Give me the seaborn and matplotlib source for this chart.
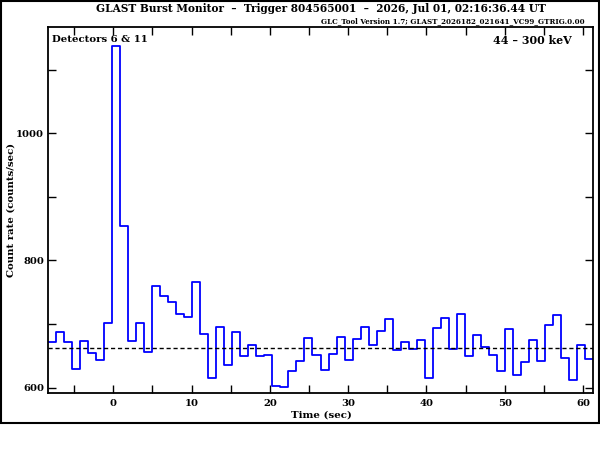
import numpy as np
import pandas as pd
import matplotlib
matplotlib.use("Agg")
import matplotlib.pyplot as plt
from matplotlib.ticker import MultipleLocator
from matplotlib.patches import Rectangle
import seaborn as sns

# ---- data ----
bin_width = 1.024
bin_start = -8.342
rates = [671, 687, 671, 630, 673, 655, 643, 701,
         1137, 854, 674, 701, 656, 759, 744, 735, 716, 711, 766, 685,
         615, 695, 635, 687, 649, 667, 649, 652, 602, 601, 626, 642,
         678, 651, 628, 653, 679, 643, 676, 695, 667, 689, 708, 659,
         671, 660, 675, 615, 693, 709, 660, 715, 649, 682, 664, 651,
         626, 692, 620, 640, 675, 642, 698, 714, 646, 612, 667, 645]
background = 662
title = "GLAST Burst Monitor  \u2013  Trigger 804565001  \u2013  2026, Jul 01, 02:16:36.44 UT"
subtitle = "GLC_Tool Version 1.7; GLAST_2026182_021641_VC99_GTRIG.0.00"
det_label = "Detectors 6 & 11"
energy_label = "44 \u2013 300 keV"

n = len(rates)
edges = bin_start + bin_width * np.arange(n + 1)
df = pd.DataFrame({"time": edges, "rate": rates + [rates[-1]]})

sns.set_theme(style="white")
plt.rcParams["font.family"] = ["DejaVu Serif"]
for k in ["text.color", "axes.labelcolor", "xtick.color", "ytick.color", "axes.edgecolor"]:
    plt.rcParams[k] = "black"

fig = plt.figure(figsize=(6, 4.5), dpi=100)
ax = fig.add_axes([48 / 600, 1 - 393 / 450, 545 / 600, 366 / 450])

sns.lineplot(data=df, x="time", y="rate", drawstyle="steps-post",
             estimator=None, color="#0000ff", lw=1.3, ax=ax)
ax.axhline(background, color="black", lw=1.0, ls=(0, (3, 2)))

ax.set_xlim(edges[0], edges[-1])
ax.set_ylim(591.5, 1167)

ax.xaxis.set_major_locator(MultipleLocator(10))
ax.xaxis.set_minor_locator(MultipleLocator(5))
ax.yaxis.set_major_locator(MultipleLocator(200))
ax.yaxis.set_minor_locator(MultipleLocator(100))
ax.tick_params(which="both", direction="in", top=True, right=True,
               bottom=True, left=True, length=6, width=1.0, color="black",
               labelsize=7.2)
ax.tick_params(axis="x", pad=4)
ax.tick_params(axis="y", pad=2.7)
for lab in ax.get_xticklabels() + ax.get_yticklabels():
    lab.set_fontweight("bold")

for sp in ax.spines.values():
    sp.set_color("black")
    sp.set_linewidth(1.3)

ax.set_xlabel("Time (sec)", fontsize=7.4, fontweight="bold")
ax.set_ylabel("Count rate (counts/sec)", fontsize=7.3, fontweight="bold")
ax.xaxis.set_label_coords((321 - 48) / 545, (393 - 415) / 366)
ax.yaxis.set_label_coords((11.5 - 48) / 545, (393 - 210) / 366)
ax.xaxis.label.set_va("center")
ax.yaxis.label.set_va("center")

ax.text(0.007, (393 - 40) / 366, det_label, transform=ax.transAxes, ha="left", va="center",
        fontsize=7.3, fontweight="bold")
ax.text((572 - 48) / 545, (393 - 40) / 366, energy_label, transform=ax.transAxes,
        ha="right", va="center", fontsize=7.9, fontweight="bold")

fig.text(321 / 600, 1 - 9 / 450, title, ha="center", va="center", fontsize=7.6,
         fontweight="bold")
fig.text(585 / 600, 1 - 21 / 450, subtitle, ha="right", va="center", fontsize=5.1,
         fontweight="bold")

fig.patches.append(Rectangle((0.5 / 600, 1 - 423 / 450), 598.5 / 600, 422.5 / 450,
                             transform=fig.transFigure, fill=False,
                             edgecolor="black", lw=1.5))

fig.savefig("out.png", dpi=100, facecolor="white")
